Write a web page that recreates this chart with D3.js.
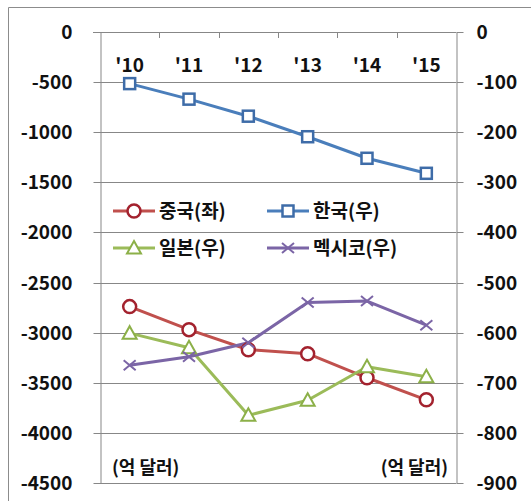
<!DOCTYPE html>
<html>
<head>
<meta charset="utf-8">
<script src="https://cdn.jsdelivr.net/npm/d3@7"></script>
<style>
    body { margin: 0; background: #fff; }
    svg text { font-family: "Noto Sans CJK KR", "Noto Sans", sans-serif; font-weight: bold; fill: #111; }
</style>
</head>
<body>
<svg id="chart" width="531" height="501"></svg>
<script>
// data
var categories = ["'10", "'11", "'12", "'13", "'14", "'15"];
var china  = [-2740, -2970, -3170, -3210, -3450, -3670];   // left axis
var korea  = [-103, -134, -168, -209, -252, -282];         // right axis
var japan  = [-601, -630, -765, -735, -668, -688];         // right axis
var mexico = [-665, -648, -620, -540, -537, -585];         // right axis
var leftTicks  = [0, -500, -1000, -1500, -2000, -2500, -3000, -3500, -4000, -4500];
var rightTicks = [0, -100, -200, -300, -400, -500, -600, -700, -800, -900];
var seriesNames = ["중국(좌)", "한국(우)", "일본(우)", "멕시코(우)"];
var unitLabel = "(억 달러)";

var svg = d3.select("#chart");
var grid = "#878787";

var plot = { left: 100, right: 456, top: 32, bottom: 483 };

var x = d3.scaleBand().domain(categories).range([plot.left, plot.right]);
var yLeft = d3.scaleLinear().domain([-4500, 0]).range([plot.bottom, plot.top]);
var yRight = d3.scaleLinear().domain([-900, 0]).range([plot.bottom, plot.top]);

function crisp(v) { return Math.round(v) + 0.5; }
// plain hyphen, no thousands separator
function plainNum(d) { return String(d); }

// outer chart border (only top and left edges are in frame)
svg.append("path")
    .attr("d", "M8.5,501V7.5H531")
    .attr("fill", "none")
    .attr("stroke", "#8c8c8c");

// gridlines
svg.append("g").selectAll("line")
    .data(leftTicks)
    .enter().append("line")
    .attr("x1", plot.left).attr("x2", plot.right)
    .attr("y1", function(d) { return crisp(yLeft(d)); })
    .attr("y2", function(d) { return crisp(yLeft(d)); })
    .attr("stroke", grid);

// left axis
var gl = svg.append("g")
    .attr("transform", "translate(" + crisp(plot.left) + ",0)")
    .call(d3.axisLeft(yLeft).tickValues(leftTicks).tickFormat(plainNum)
        .tickSize(7).tickSizeOuter(0).tickPadding(21));
// right axis
var gr = svg.append("g")
    .attr("transform", "translate(" + crisp(plot.right) + ",0)")
    .call(d3.axisRight(yRight).tickValues(rightTicks).tickFormat(plainNum)
        .tickSize(7).tickSizeOuter(0).tickPadding(13));

[gl, gr].forEach(function(g) {
    var s = (g === gl) ? yLeft : yRight;
    g.select(".domain").attr("stroke", grid);
    g.selectAll(".tick").attr("transform", function(d) {
        return "translate(0," + Math.round(s(d)) + ")";
    });
    g.selectAll(".tick line").attr("stroke", grid).attr("transform", "translate(0,0.5)");
    g.selectAll(".tick text").style("font-size", "19px").attr("dy", "0.35em");
});

// top category axis: line, inward ticks between categories, labels
svg.append("line")
    .attr("x1", plot.left - 7).attr("x2", plot.right)
    .attr("y1", crisp(plot.top)).attr("y2", crisp(plot.top))
    .attr("stroke", grid);
svg.append("g").selectAll("line")
    .data(categories.slice(1))
    .enter().append("line")
    .attr("x1", function(d) { return crisp(x(d)); })
    .attr("x2", function(d) { return crisp(x(d)); })
    .attr("y1", plot.top).attr("y2", plot.top + 6)
    .attr("stroke", grid);
svg.append("g").selectAll("text")
    .data(categories)
    .enter().append("text")
    .attr("x", function(d) { return x(d) + x.bandwidth() / 2; })
    .attr("y", 72)
    .attr("text-anchor", "middle")
    .style("font-size", "19px")
    .text(function(d) { return d; });

// series
var series = [
    { name: seriesNames[0], values: china,  y: yLeft,  line: "#C0504D", mark: "#A3222E", shape: "circle" },
    { name: seriesNames[1], values: korea,  y: yRight, line: "#4A7EBB", mark: "#3E6CA8", shape: "square" },
    { name: seriesNames[2], values: japan,  y: yRight, line: "#9BBB59", mark: "#8CB048", shape: "triangle" },
    { name: seriesNames[3], values: mexico, y: yRight, line: "#7B65A6", mark: "#7B65A6", shape: "cross" }
];

function drawMarker(g, shape, color) {
    if (shape == "circle") {
        g.append("circle").attr("r", 6.5).attr("fill", "#fff").attr("stroke", color).attr("stroke-width", 2.5);
    } else if (shape == "square") {
        g.append("rect").attr("x", -5.5).attr("y", -5.5).attr("width", 11).attr("height", 11)
            .attr("fill", "#fff").attr("stroke", color).attr("stroke-width", 2.5);
    } else if (shape == "triangle") {
        g.append("path").attr("d", "M0,-7L7,5.5H-7Z")
            .attr("fill", "#fff").attr("stroke", color).attr("stroke-width", 2);
    } else {
        g.append("path").attr("d", "M-6,-5L6,5M-6,5L6,-5")
            .attr("stroke", color).attr("stroke-width", 2);
    }
}

series.forEach(function(s) {
    var line = d3.line()
        .x(function(d, i) { return x(categories[i]) + x.bandwidth() / 2; })
        .y(function(d) { return s.y(d); });
    svg.append("path")
        .datum(s.values)
        .attr("d", line)
        .attr("fill", "none")
        .attr("stroke", s.line)
        .attr("stroke-width", 3)
        .attr("stroke-linejoin", "round");
});
series.forEach(function(s) {
    s.values.forEach(function(v, i) {
        var g = svg.append("g")
            .attr("transform", "translate(" + (x(categories[i]) + x.bandwidth() / 2) + "," + s.y(v) + ")");
        drawMarker(g, s.shape, s.mark);
    });
});

// legend (2 x 2)
var legendPos = [[113, 211], [267, 211], [113, 248], [267, 248]];
series.forEach(function(s, i) {
    var p = legendPos[i];
    var g = svg.append("g").attr("transform", "translate(" + p[0] + "," + p[1] + ")");
    g.append("line").attr("x1", 0).attr("x2", 42).attr("y1", 0).attr("y2", 0)
        .attr("stroke", s.line).attr("stroke-width", 3);
    var m = g.append("g").attr("transform", "translate(21,0)");
    drawMarker(m, s.shape, s.mark);
    g.append("text")
        .attr("x", 46).attr("y", 0).attr("dy", "0.36em")
        .style("font-size", "19px")
        .text(s.name);
});

// unit labels
svg.append("text").attr("x", 112).attr("y", 468).attr("dy", "0.36em")
    .style("font-size", "18px").text(unitLabel);
svg.append("text").attr("x", 448).attr("y", 468).attr("dy", "0.36em")
    .attr("text-anchor", "end")
    .style("font-size", "18px").text(unitLabel);
</script>
</body>
</html>
